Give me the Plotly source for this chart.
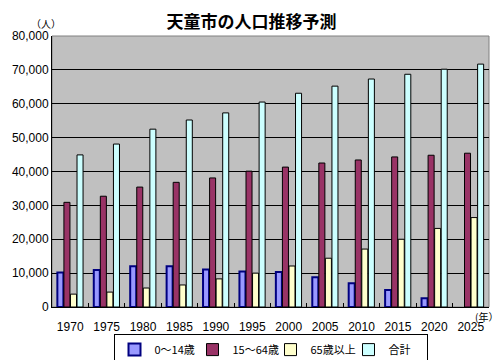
import plotly.graph_objects as go

years = ["1970", "1975", "1980", "1985", "1990", "1995", "2000", "2005", "2010", "2015", "2020", "2025"]
age0_14 = [10200, 10900, 12000, 12000, 11100, 10500, 10300, 8800, 7000, 5000, 2600, None]
age15_64 = [30900, 32700, 35400, 36800, 38100, 40100, 41300, 42500, 43400, 44300, 44800, 45400]
age65 = [3800, 4400, 5600, 6500, 8300, 10000, 12100, 14400, 17100, 20000, 23200, 26400]
total = [44900, 48100, 52500, 55200, 57300, 60500, 63100, 65200, 67300, 68700, 70200, 71700]
series_names = ["0～14歳", "15～64歳", "65歳以上", "合計"]
y_ticks = [0, 10000, 20000, 30000, 40000, 50000, 60000, 70000, 80000]

FONT = "Noto Sans CJK JP"
NUMFONT = "Liberation Sans"
fills = ["#9999FF", "#993366", "#FFFFCC", "#CCFFFF"]
lines = ["#000080", "#000000", "#000000", "#000000"]
lw = [2, 1, 1, 1]

fig = go.Figure()
for name, vals, fc, lc, w in zip(series_names, [age0_14, age15_64, age65, total], fills, lines, lw):
    fig.add_trace(go.Bar(
        x=years, y=vals, name=name,
        marker=dict(color=fc, line=dict(color=lc, width=w)),
    ))

fig.update_layout(
    width=503, height=360,
    margin=dict(l=52, r=14, t=36, b=53, autoexpand=False),
    paper_bgcolor="white",
    plot_bgcolor="#C0C0C0",
    barmode="group",
    bargap=0.28,
    bargroupgap=0.08,
    font=dict(family=FONT, size=11, color="black"),
    title=dict(text="<b>天童市の人口推移予測</b>", x=0.5, xanchor="center", y=0.94, yanchor="middle",
               font=dict(family=FONT, size=17, color="black")),
    showlegend=True,
    legend=dict(orientation="h", x=0.5, xanchor="center", y=-0.1, yanchor="top",
                bordercolor="black", borderwidth=1, bgcolor="white",
                font=dict(family=FONT, size=11), itemwidth=30, entrywidth=33,
                traceorder="normal", tracegroupgap=0),
    xaxis=dict(type="category", showgrid=False, showline=True, linecolor="black", linewidth=1,
               ticks="inside", tickson="boundaries", ticklen=4, tickcolor="black",
               tickfont=dict(family=NUMFONT, size=12), ticklabelstandoff=9),
    yaxis=dict(range=[0, 80000], tickvals=y_ticks, tickformat=",d", showgrid=True,
               gridcolor="black", gridwidth=1, showline=True, linecolor="black", linewidth=1,
               ticks="", tickfont=dict(family=NUMFONT, size=12), zeroline=False),
    shapes=[dict(type="rect", xref="paper", yref="paper", x0=0, x1=1, y0=0, y1=1,
                 line=dict(color="#808080", width=1), fillcolor="rgba(0,0,0,0)", layer="below")],
    annotations=[
        dict(text="（人）", xref="paper", yref="paper", x=0.0, y=1.0, xanchor="center", yanchor="bottom",
             xshift=-6, yshift=3, showarrow=False, font=dict(family=FONT, size=10)),
        dict(text="(年）", xref="paper", yref="paper", x=1.0, y=0.0, xanchor="right", yanchor="top",
             xshift=11, yshift=0, showarrow=False, font=dict(family=FONT, size=10)),
    ],
)

fig.write_html("out.html", config={"displayModeBar": False},
               post_script="document.body.style.margin='0';document.body.style.padding='0';document.body.style.overflow='hidden';")
